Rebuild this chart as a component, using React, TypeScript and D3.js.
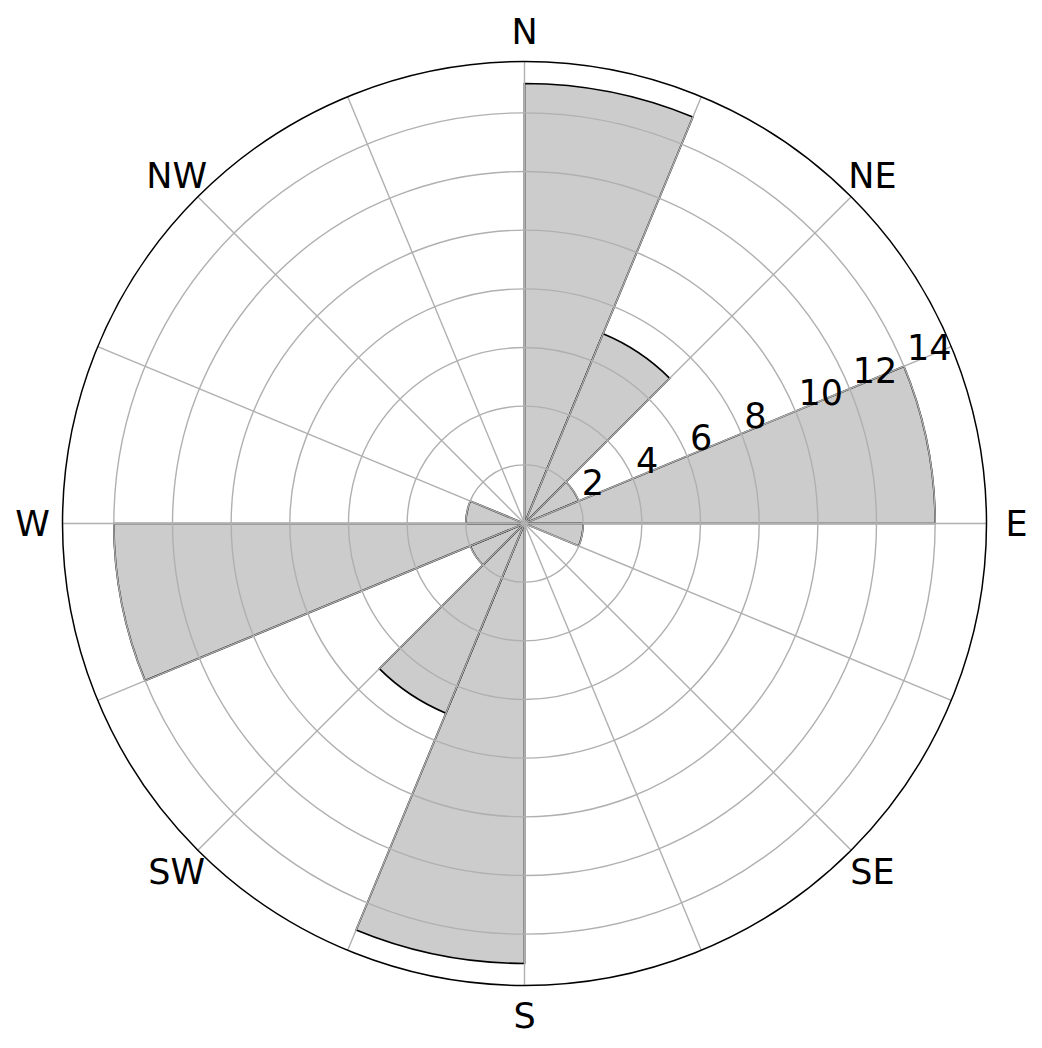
import React from 'react';
import * as d3 from 'd3';

const width = 1042;
const height = 1048;
const cx = 524.5;
const cy = 523.5;
const outerR = 462;
const rMax = 15.75;

// 16 compass sectors, bar starts at the direction and spans 22.5 degrees clockwise
const directions = [0, 22.5, 45, 67.5, 90, 112.5, 135, 157.5, 180, 202.5, 225, 247.5, 270, 292.5, 315, 337.5];
const counts = [15, 7, 2, 14, 2, 0, 0, 0, 15, 7, 2, 14, 2, 0, 0, 0];
const sectorWidth = 22.5;

const compassLabels = ['N', 'NE', 'E', 'SE', 'S', 'SW', 'W', 'NW'];
const compassAngles = [0, 45, 90, 135, 180, 225, 270, 315];
const ringTicks = [2, 4, 6, 8, 10, 12, 14];
const rLabelAngle = 67.5; // compass degrees (22.5 above east)

const font = 'DejaVu Sans, sans-serif';

export default function App() {
  const r = d3.scaleLinear().domain([0, rMax]).range([0, outerR]);
  const rad = (deg: number) => (deg * Math.PI) / 180;

  const arc = d3.arc<any>();

  const bars = directions.map((dir, i) => {
    const v = counts[i];
    if (!v) return null;
    const d = arc({
      innerRadius: 0,
      outerRadius: r(v),
      startAngle: rad(dir),
      endAngle: rad(dir + sectorWidth),
    });
    return <path key={'b' + i} d={d || ''} fill="#cccccc" stroke="#000" strokeWidth={1.7} strokeLinejoin="miter" />;
  });

  // compass angle -> svg x/y
  const px = (deg: number, rr: number) => rr * Math.sin(rad(deg));
  const py = (deg: number, rr: number) => -rr * Math.cos(rad(deg));

  const spokes = directions.map((dir, i) => (
    <line key={'s' + i} x1={0} y1={0} x2={px(dir, outerR)} y2={py(dir, outerR)} stroke="#b0b0b0" strokeWidth={1.4} />
  ));

  const rings = ringTicks.map((t) => (
    <circle key={'r' + t} r={r(t)} fill="none" stroke="#b0b0b0" strokeWidth={1.4} />
  ));

  const ringLabels = ringTicks.map((t) => (
    <text
      key={'rl' + t}
      x={px(rLabelAngle, r(t)) + 3}
      y={py(rLabelAngle, r(t)) - 6}
      fontSize={35}
      fontFamily={font}
      textAnchor="start"
    >
      {t}
    </text>
  ));

  const dirLabels = compassLabels.map((lab, i) => (
    <text
      key={'d' + lab}
      x={px(compassAngles[i], outerR + 30)}
      y={py(compassAngles[i], outerR + 30) + 12.5}
      fontSize={35}
      fontFamily={font}
      textAnchor="middle"
    >
      {lab}
    </text>
  ));

  return (
    <div style={{ position: 'absolute', left: 0, top: 0 }}>
      <svg width={width} height={height} style={{ display: 'block', background: '#fff' }}>
        <g transform={`translate(${cx},${cy})`}>
          {bars}
          {spokes}
          {rings}
          <circle r={outerR} fill="none" stroke="#000" strokeWidth={1.5} />
          {ringLabels}
          {dirLabels}
        </g>
      </svg>
    </div>
  );
}
